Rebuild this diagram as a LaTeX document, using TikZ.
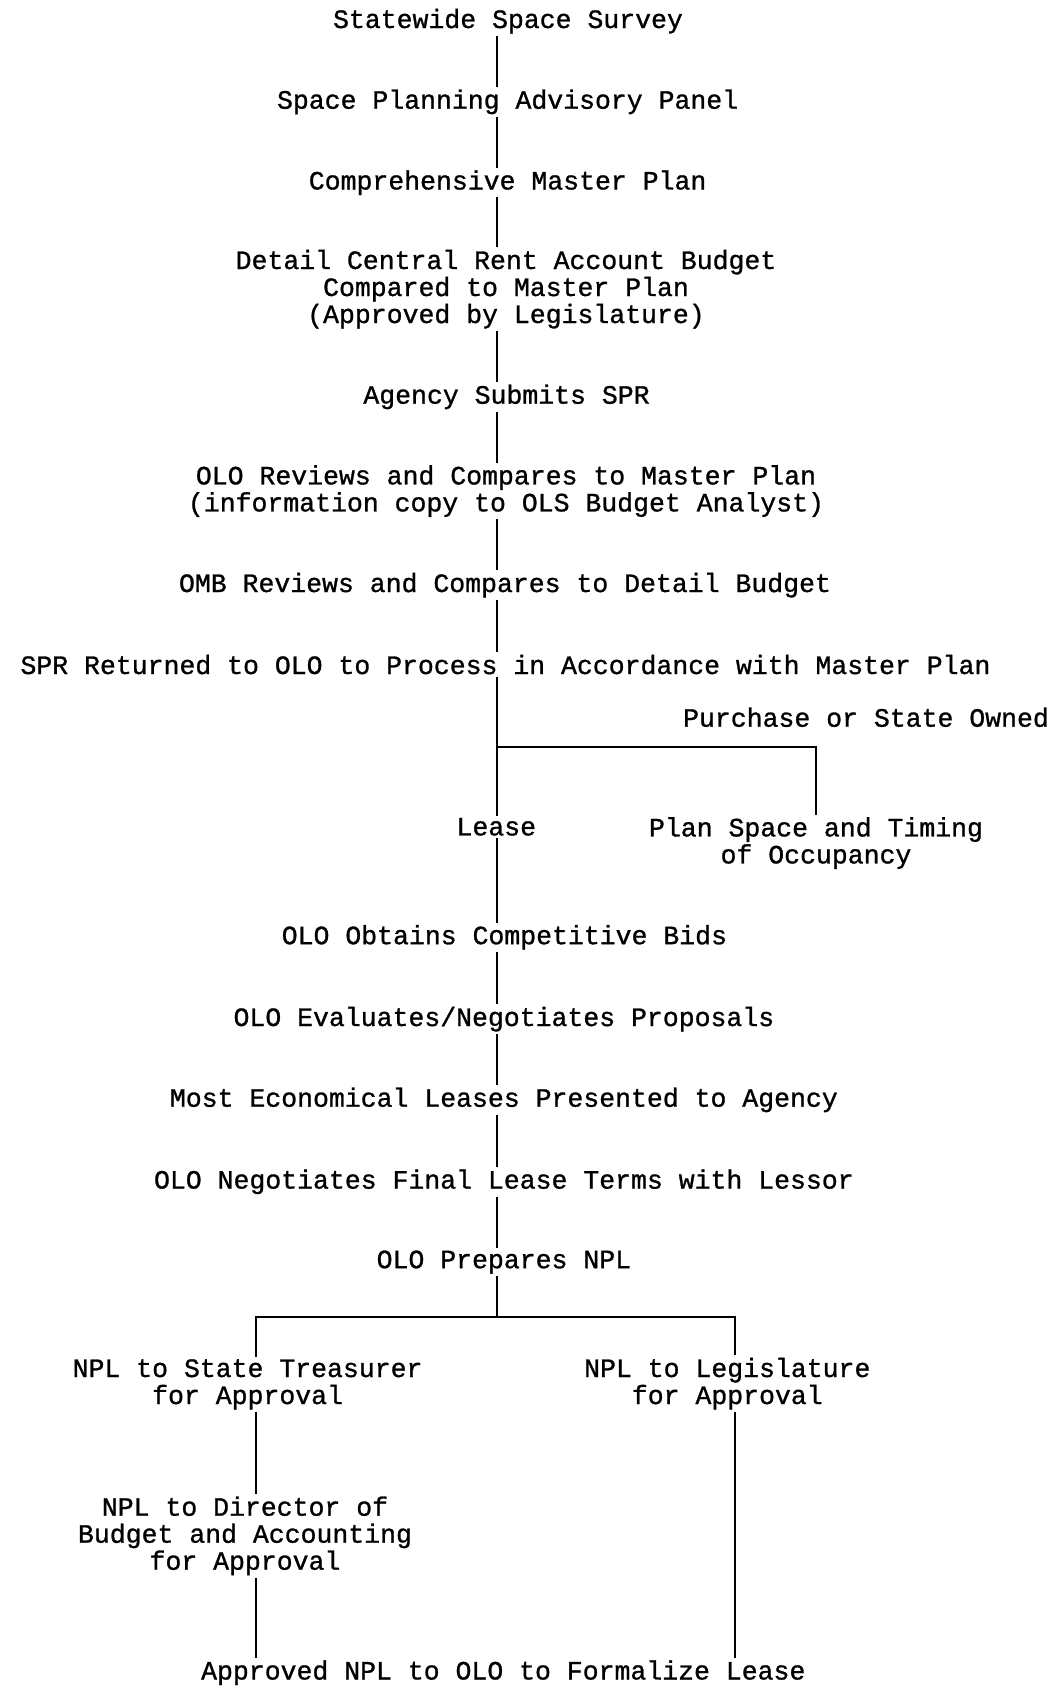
\documentclass[tikz,border=0pt]{standalone}
\usepackage{fontspec}
\newfontfamily\mono[FakeBold=1.0]{Liberation Mono}
\begin{document}
\begin{tikzpicture}[x=0.5pt,y=-0.5pt,
  lbl/.style={font=\mono\fontsize{13.25}{13.5}\selectfont, inner sep=1pt, anchor=base, align=center, text=black},
  conn/.style={line width=0.9pt, draw=black}]
\fill[white] (0,0) rectangle (1054,1688);
\path[use as bounding box] (0,0) rectangle (1054,1688);
% trunk x positions
\coordinate (T) at (497,0);
\coordinate (L) at (256,0);
\coordinate (R) at (735,0);
\coordinate (B1) at (497,747);
\coordinate (B2) at (497,1317);
% nodes (multi-line nodes are placed by the baseline of their last line)
\node[lbl] (s1) at (508,28) {Statewide Space Survey};
\node[lbl] (s2) at (507.6,108.7) {Space Planning Advisory Panel};
\node[lbl] (s3) at (507.6,189.5) {Comprehensive Master Plan};
\node[lbl] (s4) at (506,323) {Detail Central Rent Account Budget\\Compared to Master Plan\\(Approved by Legislature)};
\node[lbl] (s5) at (506.5,403.7) {Agency Submits SPR};
\node[lbl] (s6) at (506,511.4) {OLO Reviews and Compares to Master Plan\\(information copy to OLS Budget Analyst)};
\node[lbl] (s7) at (505,592) {OMB Reviews and Compares to Detail Budget};
\node[lbl] (s8) at (505.5,674) {SPR Returned to OLO to Process in Accordance with Master Plan};
\node[lbl] (pur) at (866,726.7) {Purchase or State Owned};
\node[lbl] (lease) at (496.3,835.4) {Lease};
\node[lbl] (plan) at (816,863.4) {Plan Space and Timing\\of Occupancy};
\node[lbl] (s11) at (504.4,944.2) {OLO Obtains Competitive Bids};
\node[lbl] (s12) at (503.9,1026) {OLO Evaluates/Negotiates Proposals};
\node[lbl] (s13) at (503.9,1106.7) {Most Economical Leases Presented to Agency};
\node[lbl] (s14) at (503.9,1188.6) {OLO Negotiates Final Lease Terms with Lessor};
\node[lbl] (s15) at (503.9,1268.2) {OLO Prepares NPL};
\node[lbl] (tr) at (247.6,1404) {NPL to State Treasurer\\for Approval};
\node[lbl] (lg) at (727.3,1404) {NPL to Legislature\\for Approval};
\node[lbl] (dr) at (245,1569.7) {NPL to Director of\\Budget and Accounting\\for Approval};
\node[lbl] (fin) at (503.3,1679.5) {Approved NPL to OLO to Formalize Lease};
% connectors
\draw[conn] (s1.south -| T) -- (s2.north -| T);
\draw[conn] (s2.south -| T) -- (s3.north -| T);
\draw[conn] (s3.south -| T) -- (s4.north -| T);
\draw[conn] (s4.south -| T) -- (s5.north -| T);
\draw[conn] (s5.south -| T) -- (s6.north -| T);
\draw[conn] (s6.south -| T) -- (s7.north -| T);
\draw[conn] (s7.south -| T) -- (s8.north -| T);
\draw[conn] (s8.south -| T) -- (lease.north -| T);
\draw[conn] (B1) -| (plan.north);
\draw[conn] (lease.south -| T) -- (s11.north -| T);
\draw[conn] (s11.south -| T) -- (s12.north -| T);
\draw[conn] (s12.south -| T) -- (s13.north -| T);
\draw[conn] (s13.south -| T) -- (s14.north -| T);
\draw[conn] (s14.south -| T) -- (s15.north -| T);
\draw[conn] (s15.south -| T) -- (B2);
\draw[conn] (tr.north -| L) |- (B2) -| (lg.north -| R);
\draw[conn] (tr.south -| L) -- (dr.north -| L);
\draw[conn] (dr.south -| L) -- (fin.north -| L);
\draw[conn] (lg.south -| R) -- (fin.north -| R);
\end{tikzpicture}
\end{document}
